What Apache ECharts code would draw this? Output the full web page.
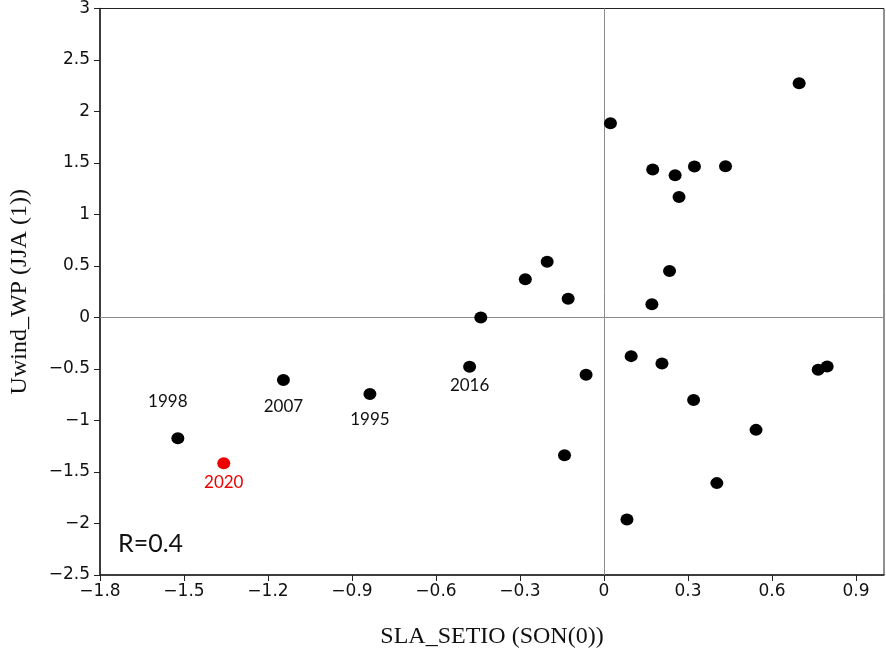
<!DOCTYPE html>
<html>
<head>
<meta charset="utf-8">
<script src="https://cdn.jsdelivr.net/npm/echarts@6/dist/echarts.min.js"></script>
<style>
  html, body { margin: 0; padding: 0; background: #fff; }
  #main { width: 886px; height: 654px; }
</style>
</head>
<body>
<div id="main"></div>
<script>
// SLA_SETIO (SON(0)) vs Uwind_WP (JJA(1)), one dot per year
const sla = [-1.522, -1.145, -0.836, -0.480, -0.440, -0.281, -0.203, -0.128, -0.064, -0.141,
  0.023, 0.097, 0.082, 0.174, 0.171, 0.207, 0.234, 0.254, 0.268, 0.323,
  0.320, 0.434, 0.403, 0.543, 0.697, 0.765, 0.797];
const uwind = [-1.172, -0.607, -0.743, -0.478, 0.0, 0.371, 0.541, 0.183, -0.556, -1.337,
  1.887, -0.375, -1.962, 1.438, 0.129, -0.446, 0.451, 1.380, 1.170, 1.465,
  -0.801, 1.468, -1.608, -1.091, 2.274, -0.507, -0.475];
const yearLabels = ['1998', '2007', '1995', '2016', '', '', '', '', '', '',
  '', '', '', '', '', '', '', '', '', '',
  '', '', '', '', '', '', ''];

// the 2020 case, drawn in red
const sla2020 = [-1.358];
const uwind2020 = [-1.414];
const label2020 = ['2020'];

const xTicks = { min: -1.8, max: 1.0, interval: 0.3 };
const yTicks = { min: -2.5, max: 3, interval: 0.5 };
const corrText = 'R=0.4';

// where each year label sits relative to its dot
const labelPlace = {
  '1998': { position: 'top', distance: 22, offset: [-10, 0] },
  '2007': { position: 'bottom', distance: 12 },
  '1995': { position: 'bottom', distance: 11 },
  '2016': { position: 'bottom', distance: 4 },
  '2020': { position: 'bottom', distance: 5 }
};

function fmt(v) {
  return String(+v.toFixed(1)).replace('-', '\u2212');
}

function buildData(xs, ys, names, color) {
  let out = [];
  for (let i = 0; i < xs.length; i++) {
    let item = { value: [xs[i], ys[i]] };
    if (names[i]) {
      let p = labelPlace[names[i]];
      item.label = {
        show: true,
        formatter: names[i],
        position: p.position,
        distance: p.distance,
        offset: p.offset || [0, 0],
        color: color,
        fontFamily: 'Lato',
        fontSize: 17
      };
    }
    out.push(item);
  }
  return out;
}

const chart = echarts.init(document.getElementById('main'), null, { renderer: 'canvas' });

const tickFont = '"DejaVu Sans", sans-serif';

const option = {
  backgroundColor: '#fff',
  animation: false,
  grid: {
    left: 98, right: 2, top: 7, bottom: 78,
    show: true, borderColor: '#222', borderWidth: 1, backgroundColor: 'transparent'
  },
  xAxis: {
    type: 'value',
    min: xTicks.min, max: xTicks.max, interval: xTicks.interval,
    name: 'SLA_SETIO (SON(0))',
    nameLocation: 'middle',
    nameGap: 50,
    nameTextStyle: { fontFamily: 'Liberation Serif', fontSize: 24, color: '#111' },
    axisLine: { onZero: false, lineStyle: { color: '#222', width: 1.5 } },
    axisTick: { show: true, length: 6, lineStyle: { color: '#222' } },
    axisLabel: {
      showMaxLabel: false, margin: 8,
      fontFamily: tickFont, fontSize: 17, color: '#111',
      formatter: fmt
    },
    splitLine: { show: false }
  },
  yAxis: {
    type: 'value',
    min: yTicks.min, max: yTicks.max, interval: yTicks.interval,
    name: 'Uwind_WP (JJA (1))',
    nameLocation: 'middle',
    nameGap: 68,
    nameTextStyle: { fontFamily: 'Liberation Serif', fontSize: 24, color: '#111' },
    axisLine: { onZero: false, lineStyle: { color: '#222', width: 1.5 } },
    axisTick: { show: true, length: 6, lineStyle: { color: '#222' } },
    axisLabel: {
      margin: 10,
      fontFamily: tickFont, fontSize: 17, color: '#111',
      formatter: fmt
    },
    splitLine: { show: false }
  },
  graphic: [
    {
      type: 'text',
      left: 118, top: 531,
      style: { text: corrText, fontFamily: 'Lato', fontSize: 25, fill: '#111' }
    }
  ],
  series: [
    {
      type: 'scatter',
      symbol: 'circle',
      symbolSize: [13, 12],
      itemStyle: { color: '#000', opacity: 1 },
      data: buildData(sla, uwind, yearLabels, '#111'),
      markLine: {
        silent: true,
        symbol: ['none', 'none'],
        label: { show: false },
        lineStyle: { color: '#8c8c8c', width: 1, type: 'solid' },
        data: [{ xAxis: 0 }, { yAxis: 0 }],
        z: 1
      },
      z: 3
    },
    {
      type: 'scatter',
      symbol: 'circle',
      symbolSize: [13, 12],
      itemStyle: { color: '#ee0000', opacity: 1 },
      data: buildData(sla2020, uwind2020, label2020, '#ee0000'),
      z: 4
    }
  ]
};

chart.setOption(option);
</script>
</body>
</html>
